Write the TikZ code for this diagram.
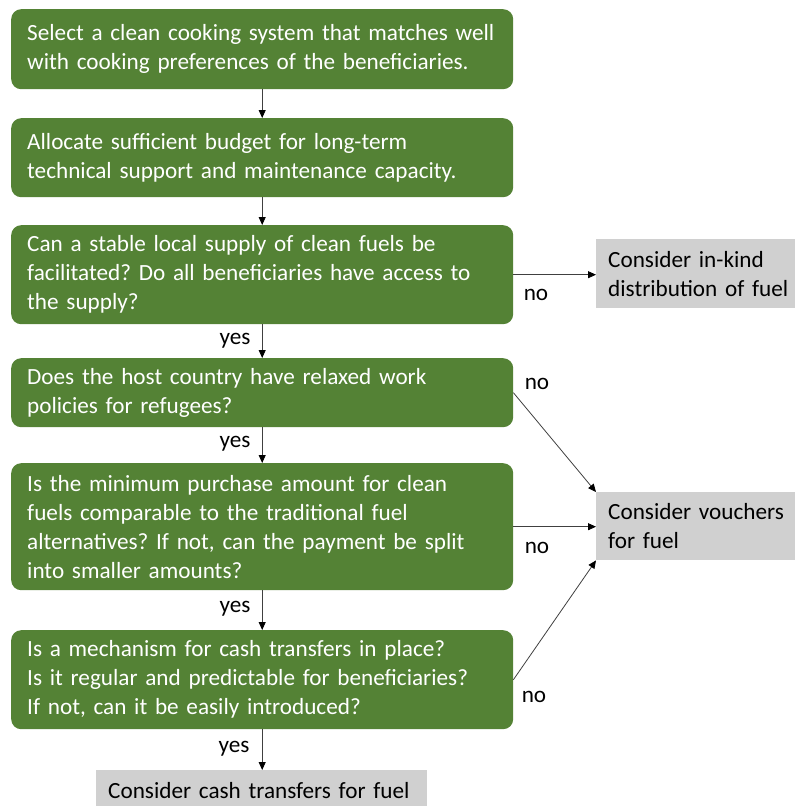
\documentclass[tikz,border=0pt]{standalone}
\usepackage{fontspec}
\setmainfont{Carlito}
\usetikzlibrary{arrows.meta}
\definecolor{leaf}{HTML}{548235}
\definecolor{pale}{HTML}{D0D0D0}
\definecolor{wire}{HTML}{404040}
\tikzset{
  base/.style={font=\fontsize{23.2}{29}\selectfont},
  stepbox/.style={base, fill=leaf, text=white, rounded corners=10pt, align=left,
    text width=470pt, inner xsep=16pt, inner ysep=0pt, anchor=north west,
    minimum height=#1},
  outcome/.style={base, fill=pale, text=black, align=left,
    inner xsep=12pt, inner ysep=0pt, anchor=north west, minimum height=#1},
  link/.style={draw=wire, line width=0.8pt, -{Triangle[length=8pt,width=7pt,color=black]}},
  tag/.style={base, text=black, inner sep=0pt}
}
\frenchspacing
\begin{document}
\begin{tikzpicture}[x=1pt,y=-1pt]
\useasboundingbox (0,0) rectangle (795,806);

\node[stepbox=80pt] (b1) at (11,9)
  {Select a clean cooking system that matches well\\with cooking preferences of the beneficiaries.};
\node[stepbox=79pt] (b2) at (11,118)
  {Allocate sufficient budget for long-term\\technical support and maintenance capacity.};
\node[stepbox=99pt] (b3) at (11,225)
  {Can a stable local supply of clean fuels be\\facilitated? Do all beneficiaries have access to\\the supply?};
\node[stepbox=69pt] (b4) at (11,358)
  {Does the host country have relaxed work\\policies for refugees?};
\node[stepbox=127pt] (b5) at (11,463)
  {Is the minimum purchase amount for clean\\fuels comparable to the traditional fuel\\alternatives? If not, can the payment be split\\into smaller amounts?};
\node[stepbox=99pt] (b6) at (11,630)
  {Is a mechanism for cash transfers in place?\\Is it regular and predictable for beneficiaries?\\If not, can it be easily introduced?};

\node[outcome=69pt, text width=187pt] (g1) at (596,239)
  {Consider in-kind\\distribution of fuel};
\node[outcome=68pt, text width=187pt] (g2) at (596,492)
  {Consider vouchers\\for fuel};
\node[outcome=40pt, text width=307pt] (g3) at (96,770)
  {Consider cash transfers for fuel};

\draw[link] (b1.south) -- (b2.north);
\draw[link] (b2.south) -- (b3.north);
\draw[link] (b3.south) -- (b4.north);
\draw[link] (b4.south) -- (b5.north);
\draw[link] (b5.south) -- (b6.north);
\draw[link] (b6.south) -- (b6.south |- g3.north);

\draw[link] (b3.east) -- (b3.east -| g1.west);
\draw[link] (b4.east) -- (g2.north west);
\draw[link] (b5.east) -- (b5.east -| g2.west);
\draw[link] (b6.east) -- (g2.south west);

\node[tag] (n1) at (536,295) {no};
\node[tag] (n2) at (537,384) {no};
\node[tag] (n3) at (537,548) {no};
\node[tag] (n4) at (534,697) {no};

\node[tag] (y1) at (235,341) {yes};
\node[tag] (y2) at (235,444) {yes};
\node[tag] (y3) at (235,609) {yes};
\node[tag] (y4) at (234,749) {yes};
\end{tikzpicture}
\end{document}
